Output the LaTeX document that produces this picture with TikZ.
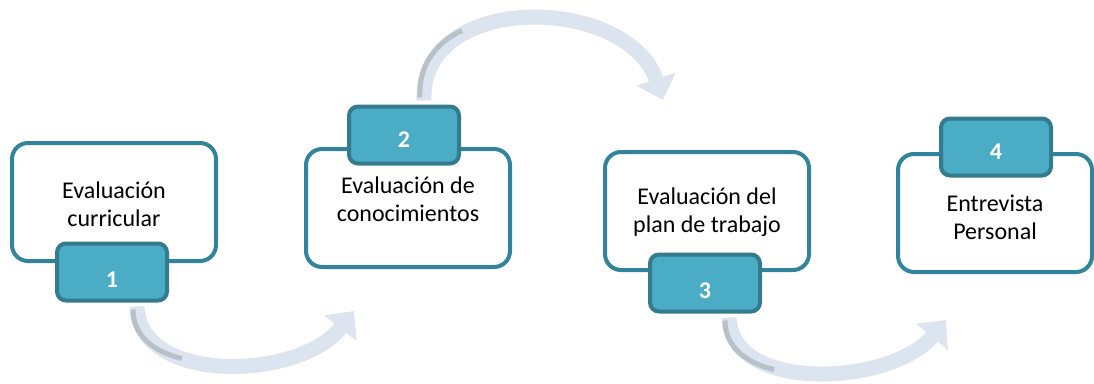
\documentclass[tikz,border=0pt]{standalone}
\usepackage{fontspec}
\setmainfont{Carlito}
\usetikzlibrary{arrows.meta,calc}
\definecolor{boxline}{HTML}{31849B}
\definecolor{tabfill}{HTML}{4BACC6}
\definecolor{tabline}{HTML}{347B8E}
\definecolor{arrowblue}{HTML}{DCE4F0}
\definecolor{arrowgray}{HTML}{B8C0C8}

\begin{document}
\begin{tikzpicture}[x=1pt,y=-1pt,
  stepbox/.style={draw=boxline, line width=4pt, rounded corners=16pt, fill=white,
    minimum width=204pt, minimum height=118pt},
  steptext/.style={align=center, font=\fontsize{24}{28}\selectfont},
  numtab/.style={draw=tabline, fill=tabfill, line width=4pt, rounded corners=9pt,
    minimum width=110pt, minimum height=57pt, text=white,
    text height=#1, text depth=0pt, font=\fontsize{24}{26}\selectfont\bfseries},
  numtab/.default=31pt,
  bendarrow/.style={draw=arrowblue, line width=15pt,
    -{Triangle[width=40pt, length=22pt]}},
  bendshade/.style={draw=arrowgray, line width=5pt}]
\useasboundingbox (0,0) rectangle (1094,383);

% steps
\node(box1) [stepbox] at (114,202) {};
\node(box2) [stepbox] at (408,208) {};
\node(box3) [stepbox] at (707,211) {};
\node(box4) [stepbox, minimum width=194pt] at (995,213) {};
\node(txt1) [steptext] at ($(box1.center)+(0,2)$) {Evaluación\\curricular};
\node(txt2) [steptext] at ($(box2.center)+(0,-9)$) {Evaluación de\\conocimientos};
\node(txt3) [steptext] at ($(box3.center)+(0,1)$) {Evaluación del\\plan de trabajo};
\node(txt4) [steptext] at ($(box4.center)+(0,4)$) {Entrevista\\Personal};

% number tabs
\node(tab1) [numtab] at (112,272) {1};
\node(tab2) [numtab=25pt] at (404,135) {2};
\node(tab3) [numtab] at (705,283) {3};
\node(tab4) [numtab=25pt] at (996,147) {4};

% arrow ends
\coordinate (a1s) at ($(tab1.south)+(25,4)$);
\coordinate (a1e) at ($(box2.south west)+(50,42)$);
\coordinate (a2s) at ($(tab2.north)+(20,-4)$);
\coordinate (a2e) at ($(box3.north west)+(60,-50)$);
\coordinate (a3s) at ($(tab3.south)+(24,4)$);
\coordinate (a3e) at ($(box4.south west)+(50,46)$);

% arrows
\draw[bendarrow] (a1s) .. controls ($(a1s)+(2,78)$) and ($(a1e)+(-55,70)$) .. (a1e);
\draw[bendarrow] (a2s) .. controls ($(a2s)+(-4,-110)$) and ($(a2e)+(-35,-105)$) .. (a2e);
\draw[bendarrow] (a3s) .. controls ($(a3s)+(2,76)$) and ($(a3e)+(-55,66)$) .. (a3e);

% shading near the start
\draw[bendshade] ($(a1s)+(-4,3)$) .. controls ($(a1s)+(-4,28)$) and ($(a1s)+(15,45)$) .. ($(a1s)+(45,52)$);
\draw[bendshade] ($(a2s)+(-4,-3)$) .. controls ($(a2s)+(-6,-35)$) and ($(a2s)+(12,-58)$) .. ($(a2s)+(38,-70)$);
\draw[bendshade] ($(a3s)+(-4,3)$) .. controls ($(a3s)+(-4,28)$) and ($(a3s)+(15,45)$) .. ($(a3s)+(45,52)$);
\end{tikzpicture}
\end{document}
